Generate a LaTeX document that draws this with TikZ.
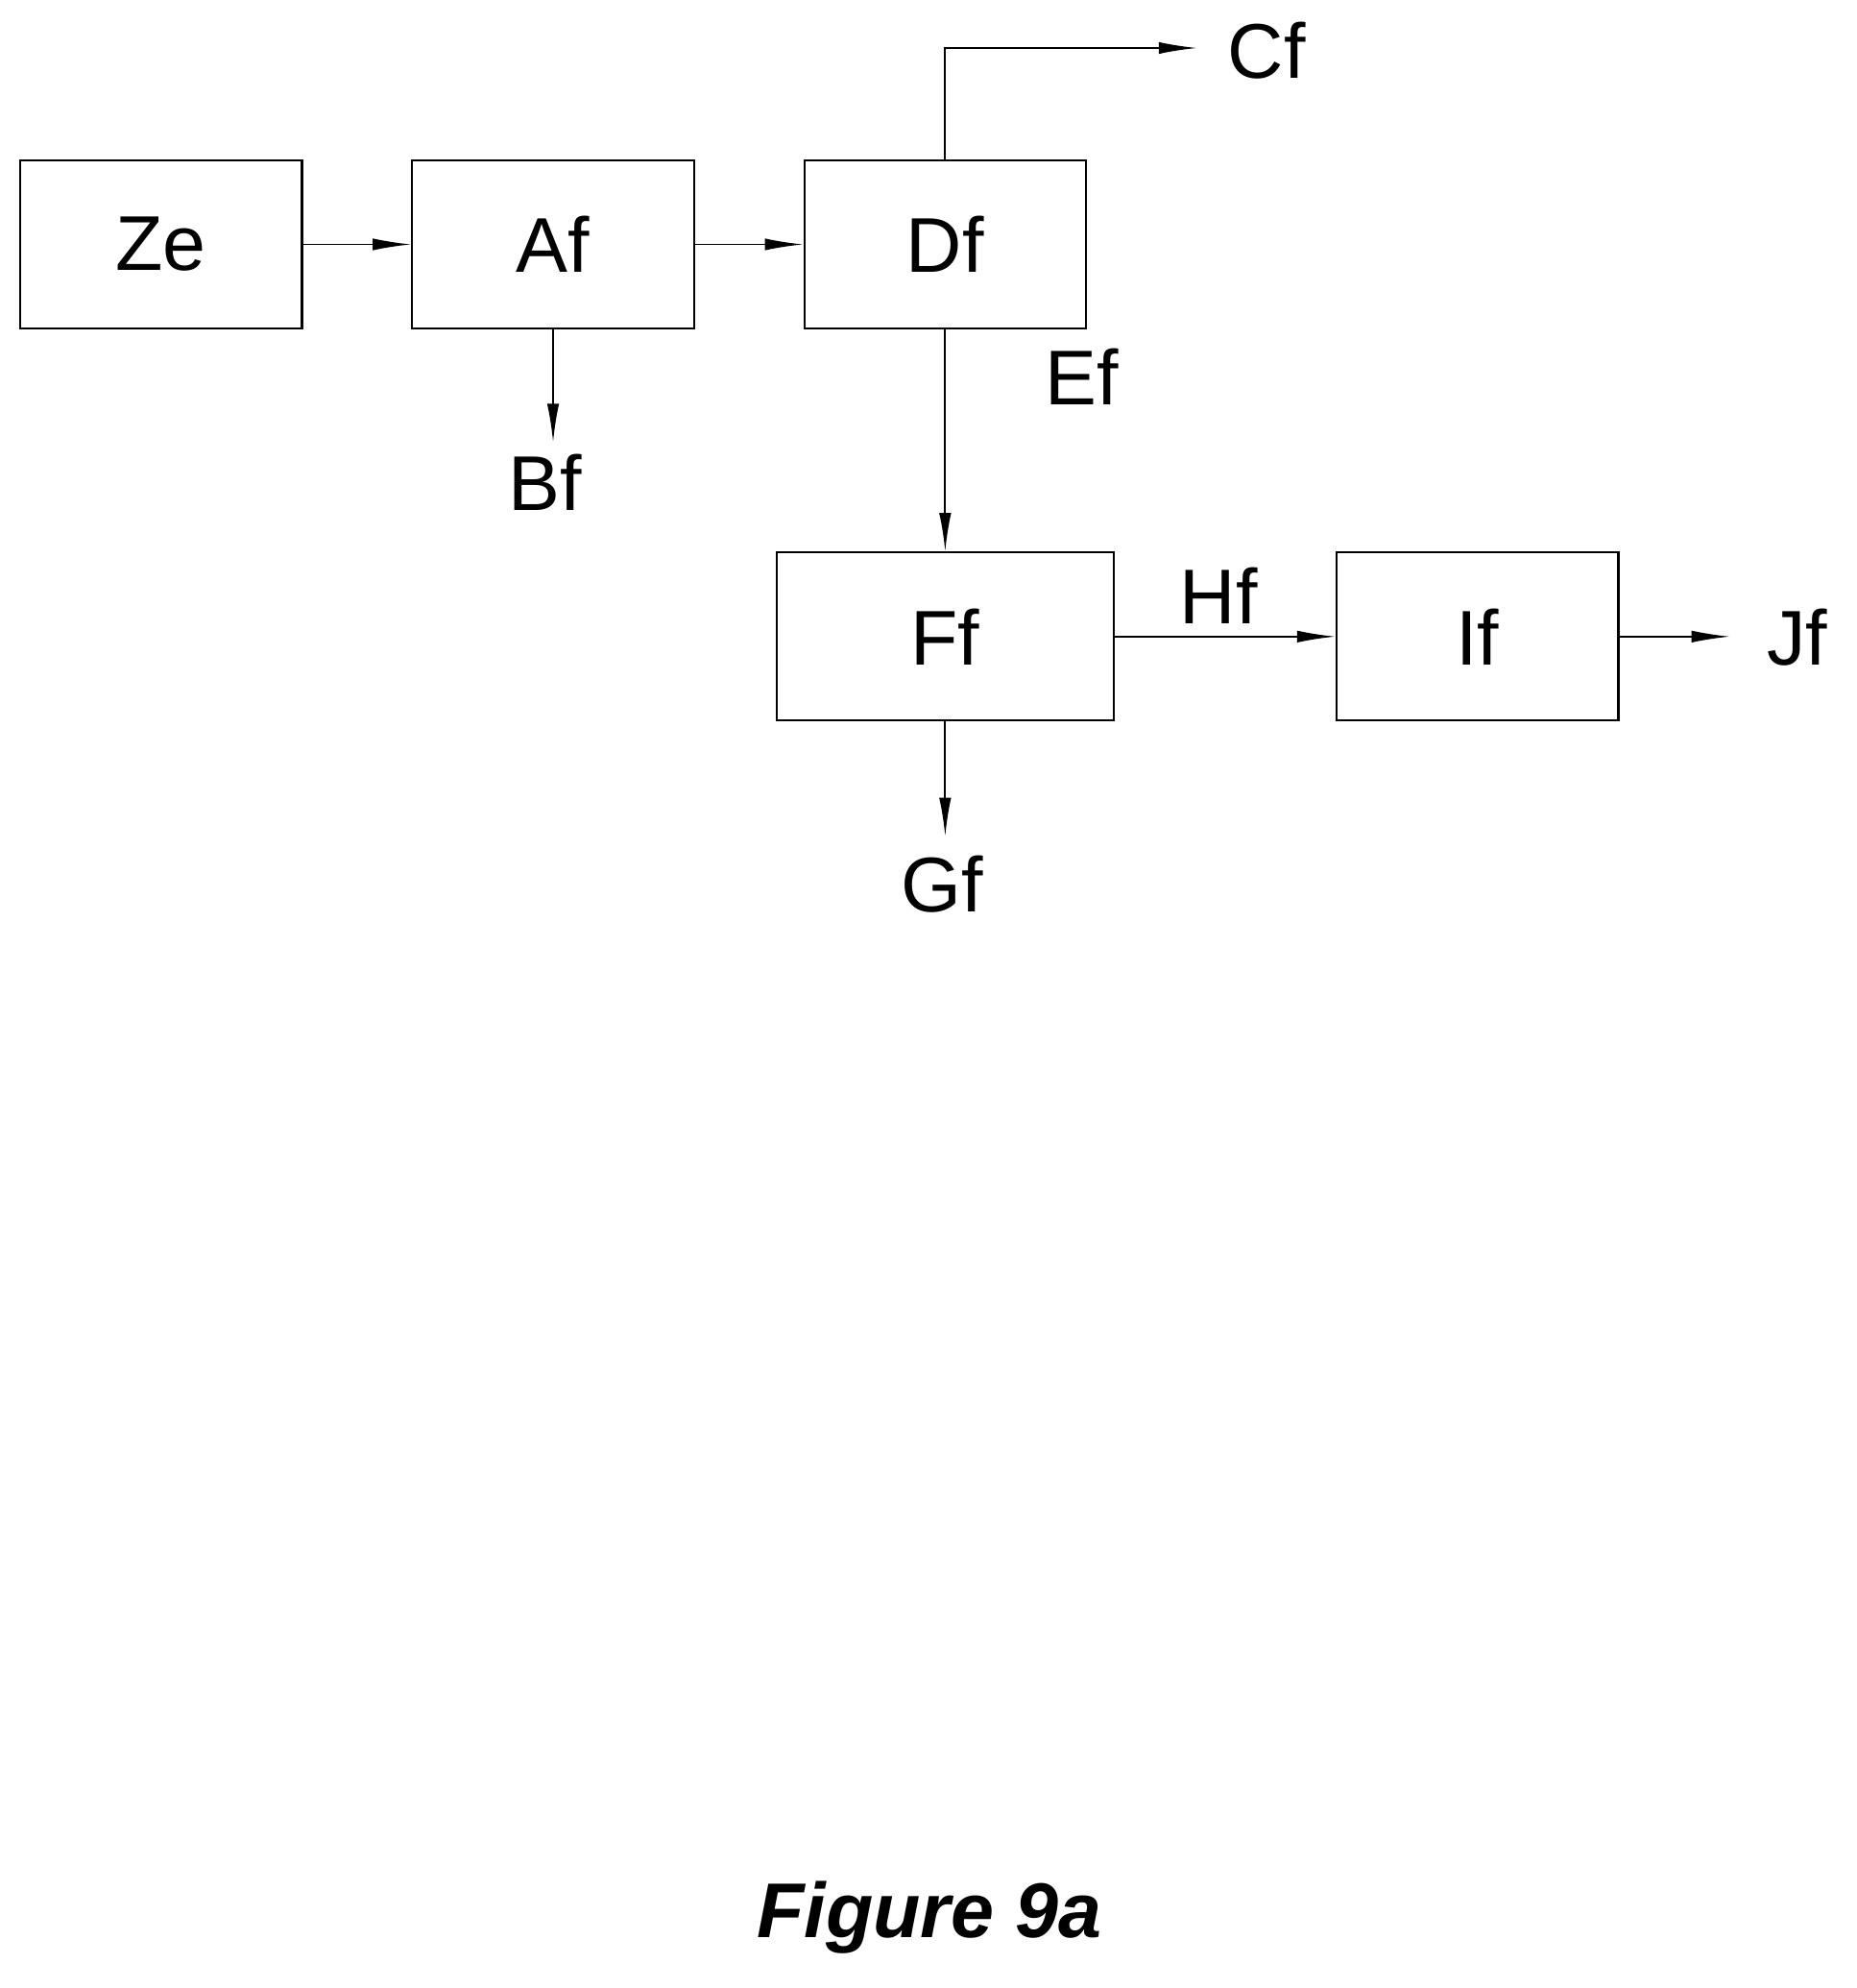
\documentclass[tikz,border=0pt]{standalone}
\usepackage{fontspec}
\setmainfont{Liberation Sans}
\usetikzlibrary{arrows.meta}
\begin{document}
\begin{tikzpicture}[x=0.0263cm,y=-0.0263cm,
  box/.style={draw,line width=1.3pt,minimum width=5.87cm,minimum height=3.5cm,inner sep=0pt,font=\fontsize{46}{50}\selectfont},
  lab/.style={font=\fontsize{46}{50}\selectfont,inner sep=0pt},
  arr/.style={line width=1.1pt,-{Latex[length=0.8cm,width=0.25cm]}}]
\useasboundingbox (0,0) rectangle (1470,1574);
\node[box] (ze) at (127.5,193.5) {Ze};
\node[box] (af) at (438,193.5) {Af};
\node[box] (df) at (748.5,193.5) {Df};
\node[box,minimum width=7.02cm] (ff) at (748.5,504) {Ff};
\node[box] (if) at (1170,504) {If};
\node[lab] (cf) at (1003,40) {Cf};
\node[lab] (bf) at (432,382) {Bf};
\node[lab] (ef) at (857,298) {Ef};
\node[lab] (hf) at (965,472) {Hf};
\node[lab] (jf) at (1423,505) {Jf};
\node[lab] (gf) at (746,700) {Gf};
\node[lab,font=\fontsize{46}{50}\selectfont\bfseries\itshape] (fig) at (736,1518) {Figure 9a};
\coordinate (c1) at (948,38);
\coordinate (b1) at (438,350);
\coordinate (j1) at (1370,504);
\coordinate (g1) at (748.5,662);
\draw[arr] (ze) -- (af);
\draw[arr] (af) -- (df);
\draw[arr] (df.north) |- (c1);
\draw[arr] (af.south) -- (b1);
\draw[arr] (df) -- (ff);
\draw[arr] (ff) -- (if);
\draw[arr] (if) -- (j1);
\draw[arr] (ff.south) -- (g1);
\end{tikzpicture}
\end{document}
